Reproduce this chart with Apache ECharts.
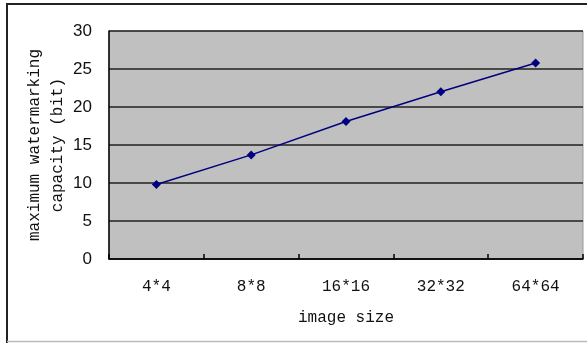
<!DOCTYPE html>
<html>
<head>
<meta charset="utf-8">
<script src="https://cdn.jsdelivr.net/npm/echarts@6/dist/echarts.min.js"></script>
<style>
  html, body { margin: 0; padding: 0; background: #fff; }
  #chart { width: 587px; height: 343px; }
</style>
</head>
<body>
<div id="chart"></div>
<script>
// Watermarking capacity versus image block size
const categories = ['4*4', '8*8', '16*16', '32*32', '64*64'];
const capacity = [9.8, 13.7, 18.1, 22.0, 25.8];
const yTicks = { min: 0, max: 30, interval: 5 };

const chart = echarts.init(document.getElementById('chart'), null, { renderer: 'canvas' });

const monoFont = '"Liberation Mono", "DejaVu Sans Mono", monospace';

chart.setOption({
  animation: false,
  backgroundColor: '#ffffff',
  grid: {
    left: 109, top: 31, right: 4, bottom: 84,
    containLabel: false,
    outerBoundsMode: 'none',
    show: true,
    backgroundColor: '#c0c0c0',
    borderColor: '#9a9a9a',
    borderWidth: 1
  },
  xAxis: {
    type: 'category',
    data: categories,
    boundaryGap: true,
    name: 'image size',
    nameLocation: 'middle',
    nameGap: 51,
    nameMoveOverlap: false,
    nameTextStyle: { fontFamily: monoFont, fontSize: 16, color: '#111' },
    axisLine: { show: true, lineStyle: { color: '#000', width: 1.5 } },
    axisTick: { show: true, inside: true, length: 5, lineStyle: { color: '#000', width: 1.5 } },
    axisLabel: { fontFamily: monoFont, fontSize: 16, color: '#111', margin: 20 },
    splitLine: { show: false }
  },
  yAxis: {
    type: 'value',
    min: yTicks.min,
    max: yTicks.max,
    interval: yTicks.interval,
    name: 'maximum watermarking\ncapacity (bit)',
    nameLocation: 'middle',
    nameGap: 40,
    nameMoveOverlap: false,
    nameTextStyle: { fontFamily: monoFont, fontSize: 16, color: '#111', lineHeight: 23 },
    axisLine: { show: true, lineStyle: { color: '#000', width: 1.5 } },
    axisTick: { show: false },
    axisLabel: { fontFamily: '"Liberation Sans", Arial, sans-serif', fontSize: 17, color: '#111', margin: 17 },
    splitLine: { show: true, lineStyle: { color: '#222', width: 1.5 } }
  },
  series: [{
    type: 'line',
    data: capacity,
    symbol: 'diamond',
    symbolSize: 9,
    lineStyle: { color: '#000080', width: 1.5 },
    itemStyle: { color: '#000080' }
  }],
  graphic: [
    { type: 'line', shape: { x1: 6, y1: 4, x2: 587, y2: 4 }, style: { stroke: '#222', lineWidth: 2 } },
    { type: 'line', shape: { x1: 7, y1: 4, x2: 7, y2: 343 }, style: { stroke: '#222', lineWidth: 2 } },
    { type: 'line', shape: { x1: 7, y1: 341.5, x2: 587, y2: 341.5 }, style: { stroke: '#bbb', lineWidth: 1.5 } }
  ]
});
</script>
</body>
</html>
